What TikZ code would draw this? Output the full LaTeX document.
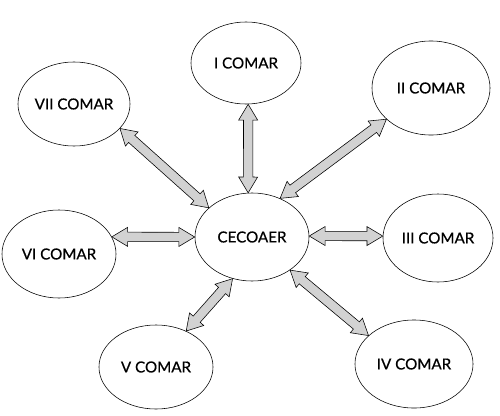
\documentclass[tikz,border=0pt]{standalone}
\usepackage{fontspec}
\setmainfont{Lato}[FakeBold=0.6,BoldFont=Lato]
\usetikzlibrary{shapes.geometric,shapes.arrows,calc}
\begin{document}
\begin{tikzpicture}[x=0.025cm,y=-0.025cm,
  org/.style={draw,ellipse,thin,minimum width=2.85cm,minimum height=2.2cm,inner sep=0pt,font=\fontsize{10.8}{12}\selectfont\bfseries},
  link/.style={draw,thin,fill=gray!35,double arrow,inner xsep=0pt,inner ysep=0.11cm,double arrow head extend=0.12cm,double arrow tip angle=62}]
\useasboundingbox (0,0) rectangle (500,415);
\node[org] (cc) at (252,237) {CECOAER};
\node[org,minimum width=2.75cm,minimum height=2.05cm] (c1) at (246,63) {I COMAR};
\node[org,minimum width=2.95cm,minimum height=2.35cm] (c2) at (431,88) {II COMAR};
\node[org,minimum width=2.75cm] (c3) at (438,238) {III COMAR};
\node[org,minimum width=2.95cm] (c4) at (414,364) {IV COMAR};
\node[org,minimum height=2.1cm] (c5) at (156,367) {V COMAR};
\node[org] (c6) at (59,254) {VI COMAR};
\node[org,minimum width=2.8cm,minimum height=2.1cm] (c7) at (74,104) {VII COMAR};
\foreach \o/\a/\b in {c1/95/273,c2/54/215,c3/1/178,c4/319/148,c5/245/50,c6/180/18,c7/146/332}{
  \path (cc.\a) -- (\o.\b) coordinate[pos=0] (p) coordinate[pos=1] (q);
  \path let \p1=($(q)-(p)$), \n1={atan2(\y1,\x1)}, \n2={veclen(\x1,\y1)} in
    node[link,minimum height=\n2,rotate=\n1] at ($(p)!.5!(q)$) {};
}
\end{tikzpicture}
\end{document}
